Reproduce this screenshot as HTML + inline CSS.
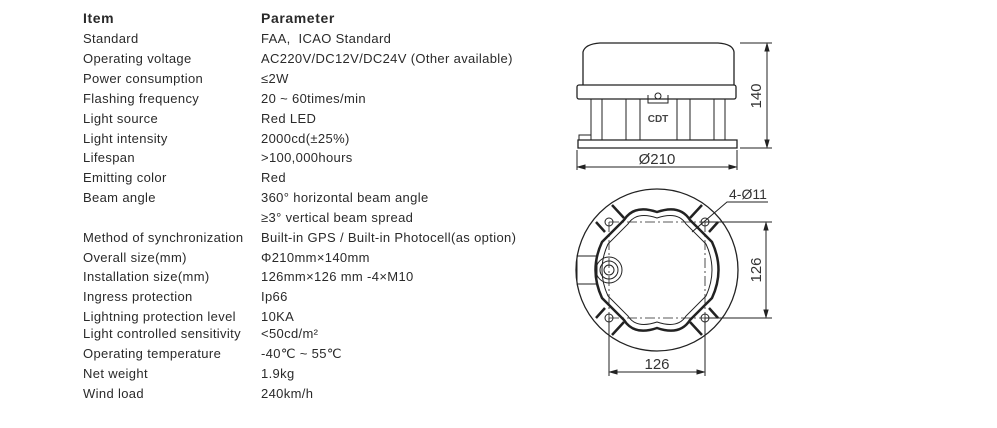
<!DOCTYPE html>
<html><head><meta charset="utf-8"><style>
body{margin:0;width:997px;height:428px;background:#fff;position:relative;overflow:hidden;font-family:"Liberation Sans",sans-serif;color:#2a2a2a}
.r{position:absolute;font-size:13px;letter-spacing:0.35px;white-space:nowrap;line-height:16px}
.h{font-weight:bold;font-size:14px;letter-spacing:0.6px}
svg{position:absolute;left:0;top:0}
</style></head><body>
<div class="r h" style="left:83px;top:10px">Item</div><div class="r h" style="left:261px;top:10px">Parameter</div>
<div class="r" style="left:83px;top:31px">Standard</div><div class="r" style="left:261px;top:31px">FAA,&nbsp; ICAO Standard</div>
<div class="r" style="left:83px;top:51px">Operating voltage</div><div class="r" style="left:261px;top:51px">AC220V/DC12V/DC24V (Other available)</div>
<div class="r" style="left:83px;top:71px">Power consumption</div><div class="r" style="left:261px;top:71px">≤2W</div>
<div class="r" style="left:83px;top:91px">Flashing frequency</div><div class="r" style="left:261px;top:91px">20 ~ 60times/min</div>
<div class="r" style="left:83px;top:111px">Light source</div><div class="r" style="left:261px;top:111px">Red LED</div>
<div class="r" style="left:83px;top:131px">Light intensity</div><div class="r" style="left:261px;top:131px">2000cd(±25%)</div>
<div class="r" style="left:83px;top:150px">Lifespan</div><div class="r" style="left:261px;top:150px">&gt;100,000hours</div>
<div class="r" style="left:83px;top:170px">Emitting color</div><div class="r" style="left:261px;top:170px">Red</div>
<div class="r" style="left:83px;top:190px">Beam angle</div><div class="r" style="left:261px;top:190px">360° horizontal beam angle</div>
<div class="r" style="left:261px;top:210px">≥3° vertical beam spread</div>
<div class="r" style="left:83px;top:230px">Method of synchronization</div><div class="r" style="left:261px;top:230px">Built-in GPS / Built-in Photocell(as option)</div>
<div class="r" style="left:83px;top:250px">Overall size(mm)</div><div class="r" style="left:261px;top:250px">Φ210mm×140mm</div>
<div class="r" style="left:83px;top:269px">Installation size(mm)</div><div class="r" style="left:261px;top:269px">126mm×126 mm -4×M10</div>
<div class="r" style="left:83px;top:289px">Ingress protection</div><div class="r" style="left:261px;top:289px">Ip66</div>
<div class="r" style="left:83px;top:309px">Lightning protection level</div><div class="r" style="left:261px;top:309px">10KA</div>
<div class="r" style="left:83px;top:326px">Light controlled sensitivity</div><div class="r" style="left:261px;top:326px">&lt;50cd/m²</div>
<div class="r" style="left:83px;top:346px">Operating temperature</div><div class="r" style="left:261px;top:346px">-40℃ ~ 55℃</div>
<div class="r" style="left:83px;top:366px">Net weight</div><div class="r" style="left:261px;top:366px">1.9kg</div>
<div class="r" style="left:83px;top:386px">Wind load</div><div class="r" style="left:261px;top:386px">240km/h</div>
<svg width="997" height="428" fill="none" stroke="#222" stroke-width="1">
<path d="M583 85 L583 52 Q585 44 600 43 L718 43 Q733 44 734 52 L734 85" stroke-width="1.3"/>
<rect x="577" y="85" width="159" height="14" rx="2" stroke-width="1.3"/>
<rect x="591" y="99" width="134" height="41"/>
<line x1="602" y1="99" x2="602" y2="140"/><line x1="626" y1="99" x2="626" y2="140"/>
<line x1="640" y1="99" x2="640" y2="140"/><line x1="677" y1="99" x2="677" y2="140"/>
<line x1="690" y1="99" x2="690" y2="140"/><line x1="714" y1="99" x2="714" y2="140"/>
<path d="M648 95 L648 103 L668 103 L668 95"/><circle cx="658" cy="96" r="3"/>
<text x="658" y="122" font-size="10" font-family="Liberation Sans" fill="#444" stroke="none" text-anchor="middle" font-weight="bold">CDT</text>
<path d="M578 140 L737 140 L737 148 L578 148 Z" stroke-width="1.3"/>
<rect x="579" y="135" width="12" height="5"/>
<line x1="577" y1="150" x2="577" y2="170"/><line x1="737" y1="150" x2="737" y2="170"/>
<line x1="579" y1="167" x2="735" y2="167"/>
<path d="M578 167 l7 -2 v4z M736 167 l-7 -2 v4z" fill="#222"/>
<text x="657" y="164" font-size="15" font-family="Liberation Sans" fill="#333" stroke="none" text-anchor="middle">Ø210</text>
<line x1="740" y1="43" x2="772" y2="43"/><line x1="740" y1="148" x2="772" y2="148"/>
<line x1="767" y1="44" x2="767" y2="147"/>
<path d="M767 44 l-2 7 h4z M767 147 l-2 -7 h4z" fill="#222"/>
<text transform="translate(761 96) rotate(-90)" font-size="15" font-family="Liberation Sans" fill="#333" stroke="none" text-anchor="middle">140</text>
<circle cx="657" cy="270" r="81" stroke-width="1.3"/>
<path d="M657 212 Q680 204 690 220 Q702 232 712 242 Q725 270 712 298 Q700 310 690 320 Q680 336 657 328 Q634 336 624 320 Q612 308 602 298 Q589 270 602 242 Q612 232 624 220 Q634 204 657 212Z" stroke-width="2.5"/>
<path d="M657 218 Q678 211 686 224 Q697 235 706 244 Q718 270 706 296 Q697 305 686 316 Q678 329 657 322 Q636 329 628 316 Q617 305 608 296 Q596 270 608 244 Q617 235 628 224 Q636 211 657 218Z"/>
<g stroke-width="2.5"><line x1="612" y1="205" x2="624" y2="218"/><line x1="596" y1="222" x2="605" y2="232"/>
<line x1="702" y1="205" x2="690" y2="218"/><line x1="718" y1="222" x2="709" y2="232"/>
<line x1="612" y1="335" x2="624" y2="322"/><line x1="596" y1="318" x2="605" y2="308"/>
<line x1="702" y1="335" x2="690" y2="322"/><line x1="718" y1="318" x2="709" y2="308"/></g>
<circle cx="609" cy="222" r="4"/><circle cx="705" cy="222" r="4"/><circle cx="609" cy="318" r="4"/><circle cx="705" cy="318" r="4"/>
<circle cx="609" cy="270" r="13"/><circle cx="609" cy="270" r="9"/><circle cx="609" cy="270" r="5"/>
<rect x="577" y="256" width="20" height="28"/>
<g stroke-dasharray="10 3 2 3" stroke-width="0.8"><line x1="609" y1="222" x2="705" y2="222"/><line x1="609" y1="318" x2="705" y2="318"/><line x1="609" y1="222" x2="609" y2="318"/><line x1="705" y1="222" x2="705" y2="318"/></g>
<line x1="705" y1="222" x2="772" y2="222"/><line x1="705" y1="318" x2="772" y2="318"/>
<line x1="766" y1="223" x2="766" y2="317"/>
<path d="M766 223 l-2 7 h4z M766 317 l-2 -7 h4z" fill="#222"/>
<text transform="translate(761 270) rotate(-90)" font-size="15" font-family="Liberation Sans" fill="#333" stroke="none" text-anchor="middle">126</text>
<line x1="609" y1="318" x2="609" y2="376"/><line x1="705" y1="318" x2="705" y2="376"/>
<line x1="610" y1="372" x2="704" y2="372"/>
<path d="M610 372 l7 -2 v4z M704 372 l-7 -2 v4z" fill="#222"/>
<text x="657" y="369" font-size="15" font-family="Liberation Sans" fill="#333" stroke="none" text-anchor="middle">126</text>
<polyline points="692,232 727,202 768,202"/>
<text x="729" y="199" font-size="14" font-family="Liberation Sans" fill="#333" stroke="none">4-Ø11</text>
</svg>
</body></html>
